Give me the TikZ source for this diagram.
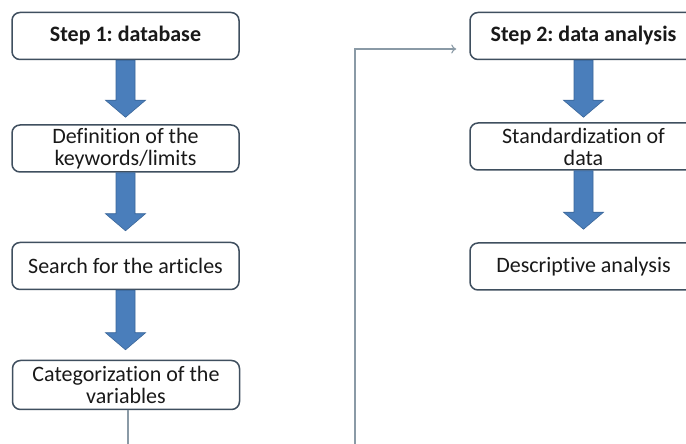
\documentclass[tikz,border=0pt]{standalone}
\usepackage{fontspec}
\setmainfont[Ligatures=NoCommon]{Carlito}
\usetikzlibrary{calc,arrows.meta}
\frenchspacing
\definecolor{boxline}{HTML}{3F4F5F}
\definecolor{blockfill}{HTML}{4A7EBB}
\definecolor{blockline}{HTML}{3A6699}
\definecolor{connline}{HTML}{8A9AA6}
\tikzset{
  stepbox/.style={draw=boxline, line width=1.5pt, fill=white, rounded corners=8pt,
    minimum width=227pt, minimum height=47pt, inner sep=1pt, align=center,
    font=\fontsize{22}{22}\selectfont, text=black!90},
  blockarrow/.style={fill=blockfill, draw=blockline, line width=0.6pt, line join=miter},
  conn/.style={draw=connline, line width=1.1pt, -{To[length=5pt,width=9pt]}}
}
% #1 source node, #2 target node, #3 gap between tip and target top
\newcommand{\mybarrow}[3]{%
  \draw[blockarrow]
    let \p1=(#1.south), \p2=(#2.north) in
    (\x1-9.5,\y1) -- (\x1-9.5,\y2+#3+17) -- (\x1-20,\y2+#3+17) -- (\x1,\y2+#3)
    -- (\x1+20,\y2+#3+17) -- (\x1+9.5,\y2+#3+17) -- (\x1+9.5,\y1) -- cycle;}
\begin{document}
\begin{tikzpicture}[x=1pt,y=1pt]
\path[use as bounding box, clip] (0,0) rectangle (686,444);
\fill[white] (0,0) rectangle (686,444);
% left column
\node[stepbox] (b1) at (125.5,408) {\textbf{Step 1: database}};
\node[stepbox] (b2) at (125.5,295.5) {Definition of the\\keywords/limits};
\node[stepbox] (b3) at (125.5,178) {Search for the articles};
\node[stepbox, minimum height=49pt] (b4) at (126,59) {Categorization of the\\variables};
% right column
\node[stepbox] (b5) at (583.5,408) {\textbf{Step 2: data analysis}};
\node[stepbox] (b6) at (583.5,297.5) {Standardization of\\data};
\node[stepbox] (b7) at (583.5,177.5) {Descriptive analysis};
% block arrows
\mybarrow{b1}{b2}{7}
\mybarrow{b2}{b3}{11}
\mybarrow{b3}{b4}{10}
\mybarrow{b5}{b6}{5}
\mybarrow{b6}{b7}{13}
% connector
\coordinate (low) at (355,-8);
\coordinate (end) at ($(b5.west)+(-13,-13)$);
\draw[conn] ($(b4.south)+(2,0)$) |- (low) |- (end);
\end{tikzpicture}
\end{document}
